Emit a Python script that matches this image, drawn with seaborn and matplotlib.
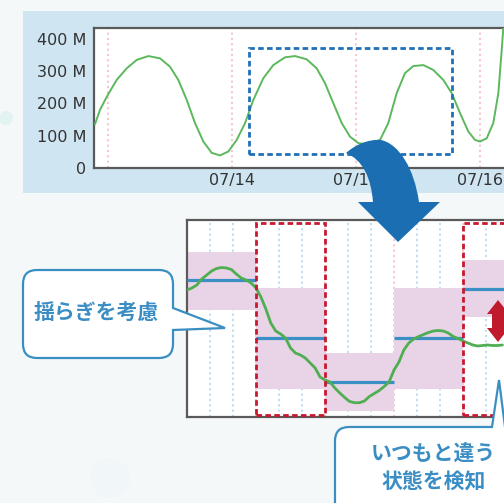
import numpy as np
import pandas as pd
import matplotlib
matplotlib.use("Agg")
import matplotlib.pyplot as plt
import seaborn as sns
from matplotlib.path import Path
from matplotlib.patches import PathPatch, Rectangle, Polygon, Circle

# ---------------- data ----------------
# overview chart: days since 07/13 00:00 and traffic in M
top_days = [-0.105, -0.065, -0.01, 0.07, 0.151, 0.231, 0.325, 0.419, 0.5, 0.567,
            0.635, 0.702, 0.769, 0.836, 0.903, 0.97, 1.038, 1.105, 1.172, 1.252,
            1.333, 1.427, 1.508, 1.602, 1.683, 1.75, 1.817, 1.885, 1.952, 2.019,
            2.086, 2.194, 2.26, 2.328, 2.395, 2.462, 2.543, 2.623, 2.704, 2.772,
            2.839, 2.906, 2.96, 3.0, 3.054, 3.107, 3.148, 3.175, 3.188]
top_vals = [136, 180, 221, 273, 309, 335, 347, 340, 314, 273,
            211, 139, 82, 47, 39, 51, 87, 139, 211, 278,
            319, 343, 347, 337, 309, 263, 201, 139, 97, 77,
            74, 87, 139, 232, 294, 316, 319, 304, 273, 232,
            170, 113, 87, 82, 92, 139, 232, 366, 433]
top_xticks = [1, 2, 3]
top_xlabels = ["07/14", "07/15", "07/16"]
top_yticks = [0, 100, 200, 300, 400]
top_ylabels = ["0", "100 M", "200 M", "300 M", "400 M"]
zoom_box_days = [1.137, 2.774]
zoom_box_vals = [43, 372]

# detail chart: samples, segments of 14 samples
bottom_vals = [127, 129, 132, 138, 142, 146, 148.5, 149.5, 149, 147.5,
               143, 139, 137, 134, 129, 120, 108, 94, 86, 83,
               79, 69, 64, 62, 59, 54, 49, 40, 37, 35,
               29, 24, 19.5, 15.5, 14.3, 14.3, 16, 20.5, 23.5, 26.5,
               30.5, 35, 47, 55, 67, 74, 78, 80.5, 82.5, 84.5,
               86, 86.5, 86, 84, 80.5, 78.5, 76, 74, 72, 71,
               71.5, 72, 71.5, 71.5, 72]
seg_edges = [0, 14, 28, 42, 56, 70]
seg_mean = [137, 79, 35, 79, 128]
seg_low = [107, 28, 6, 28, 100]
seg_high = [165, 129, 64, 129, 157]
alert_segments = [1, 4]

# ---------------- figure ----------------
sns.set_theme(style="white")
plt.rcParams["font.family"] = ["DejaVu Sans", "Noto Sans CJK JP"]

W, H = 504, 503
fig = plt.figure(figsize=(W / 100, H / 100), dpi=100, facecolor="#f5f8f9")


def frac(x0, y0, x1, y1):
    return [x0 / W, 1 - y1 / H, (x1 - x0) / W, (y1 - y0) / H]


bg = fig.add_axes([0, 0, 1, 1], zorder=0)
bg.set_xlim(0, W)
bg.set_ylim(H, 0)
bg.axis("off")
bg.add_patch(Rectangle((23, 11), 500, 182, color="#cfe5f1", lw=0))
bg.add_patch(Circle((6, 118), 7, color="#e2f3f2", lw=0))
bg.add_patch(Circle((110, 478), 20, color="#f1f7f8", lw=0))

# ---- top overview chart ----
ax1 = fig.add_axes(frac(94, 28, 511, 168), zorder=1)
ax1.set_facecolor("white")
df_top = pd.DataFrame({"day": top_days, "traffic": top_vals})
for d in [0] + top_xticks:
    ax1.axvline(d, color="#f5b9c8", lw=1.2, ls=(0, (1.2, 2)), zorder=1)
sns.lineplot(data=df_top, x="day", y="traffic", ax=ax1, color="#5cb85c", lw=1.4, zorder=3)
ax1.add_patch(Rectangle((zoom_box_days[0], zoom_box_vals[0]),
                        zoom_box_days[1] - zoom_box_days[0],
                        zoom_box_vals[1] - zoom_box_vals[0],
                        fill=False, ec="#1f70b8", lw=2.0, ls=(0, (2.0, 1.2)), zorder=4))
ax1.set_xlim(-0.113, 3.25)
ax1.set_ylim(0, 434)
ax1.set_xticks(top_xticks)
ax1.set_xticklabels(top_xlabels)
ax1.set_yticks(top_yticks)
ax1.set_yticklabels(top_ylabels)
ax1.set_xlabel("")
ax1.set_ylabel("")
ax1.tick_params(axis="both", length=0, labelsize=11.5, colors="#333333")
ax1.tick_params(axis="y", pad=5.5)
ax1.tick_params(axis="x", pad=3.5)
for sp in ax1.spines.values():
    sp.set_color("#5a5a5a")
    sp.set_linewidth(1.6)

# ---- bottom detail chart ----
ax2 = fig.add_axes(frac(187, 220, 532, 417), zorder=1)
ax2.set_facecolor("white")
for k in range(len(seg_edges) - 1):
    e0, e1 = seg_edges[k], seg_edges[k + 1]
    for t in (e0 + (e1 - e0) / 3, e0 + 2 * (e1 - e0) / 3):
        ax2.axvline(t, color="#a9d9ef", lw=1.2, ls=(0, (1.2, 2)), zorder=1)
    if k > 0:
        ax2.axvline(e0, color="#f5b9c8", lw=1.2, ls=(0, (1.2, 2)), zorder=1)
    ax2.fill_between([e0, e1], [seg_low[k]] * 2, [seg_high[k]] * 2,
                     color="#e9d3e6", lw=0, zorder=2)
    ax2.hlines(seg_mean[k], e0, e1, color="#3a8fc4", lw=2.3, zorder=3)
sample_t = list(range(len(bottom_vals)))
sns.lineplot(x=sample_t, y=bottom_vals, ax=ax2, color="#4fae52", lw=2.0, zorder=4)
for k in alert_segments:
    ax2.add_patch(Rectangle((seg_edges[k], 2), seg_edges[k + 1] - seg_edges[k], 192,
                            fill=False, ec="#c8182f", lw=2.0, ls=(0, (2.0, 1.2)), zorder=5))
ax2.set_xlim(seg_edges[0], seg_edges[-1])
ax2.set_ylim(0, 197)
ax2.set_xticks([])
ax2.set_yticks([])
ax2.set_xlabel("")
ax2.set_ylabel("")
for sp in ax2.spines.values():
    sp.set_color("#5a5a5a")
    sp.set_linewidth(1.6)

# ---- overlay: arrows and callouts (pixel coordinates) ----
ov = fig.add_axes([0, 0, 1, 1], zorder=5)
ov.set_xlim(0, W)
ov.set_ylim(H, 0)
ov.axis("off")
ov.patch.set_alpha(0)

M, L, C4, CL = Path.MOVETO, Path.LINETO, Path.CURVE4, Path.CLOSEPOLY
arrow_v = [(346, 153), (355, 145), (368, 139), (381, 140),
           (399, 144), (414, 168), (419, 202),
           (440, 202), (398, 242), (358, 202), (373, 202),
           (371, 178), (363, 160), (346, 153), (346, 153)]
arrow_c = [M, C4, C4, C4, C4, C4, C4, L, L, L, L, C4, C4, C4, CL]
ov.add_patch(PathPatch(Path(arrow_v, arrow_c), fc="#1b6eb1", ec="none"))

red_arrow = [(498, 300), (509, 314), (504, 314), (504, 328), (509, 328), (498, 342),
             (487, 328), (492, 328), (492, 314), (487, 314)]
ov.add_patch(Polygon(red_arrow, closed=True, fc="#c01b2c", ec="none"))


def callout(x0, y0, x1, y1, r, pointer, side):
    Q = Path.CURVE3
    v = [(x0 + r, y0)]
    c = [M]
    if side == "top":
        v += pointer
        c += [L] * len(pointer)
    v += [(x1 - r, y0), (x1, y0), (x1, y0 + r)]
    c += [L, Q, Q]
    if side == "right":
        v += pointer
        c += [L] * len(pointer)
    v += [(x1, y1 - r), (x1, y1), (x1 - r, y1),
          (x0 + r, y1), (x0, y1), (x0, y1 - r),
          (x0, y0 + r), (x0, y0), (x0 + r, y0), (x0 + r, y0)]
    c += [L, Q, Q, L, Q, Q, L, Q, Q, CL]
    return Path(v, c)


ov.add_patch(PathPatch(callout(23, 270, 173, 358, 14,
                               [(173, 308), (225, 328), (173, 330)], "right"),
                       fc="white", ec="#3a8fc2", lw=1.6))
ov.add_patch(PathPatch(callout(335, 427, 540, 540, 14,
                               [(492, 427), (499, 380), (505, 427)], "top"),
                       fc="white", ec="#3a8fc2", lw=1.6))

cjk = ["Noto Sans CJK JP", "DejaVu Sans"]
ov.text(96, 313, "揺らぎを考慮", ha="center", va="center", fontsize=15,
        fontweight="bold", color="#3b8ec3", family=cjk)
ov.text(433, 453, "いつもと違う", ha="center", va="center", fontsize=15,
        fontweight="bold", color="#3b8ec3", family=cjk)
ov.text(434, 482, "状態を検知", ha="center", va="center", fontsize=15,
        fontweight="bold", color="#3b8ec3", family=cjk)

fig.savefig("out.png", dpi=100, facecolor=fig.get_facecolor())
